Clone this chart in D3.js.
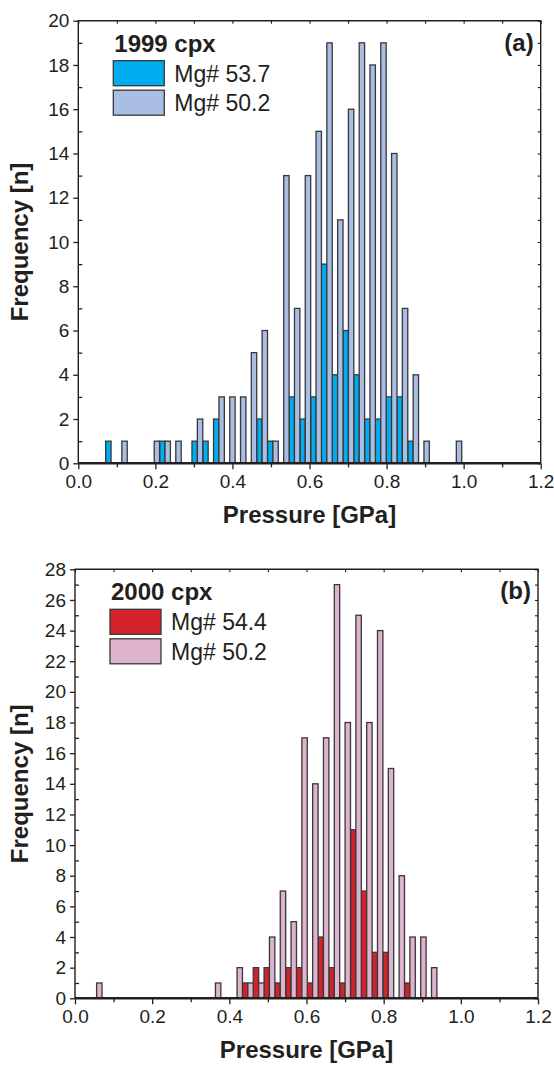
<!DOCTYPE html>
<html>
<head>
<meta charset="utf-8">
<script src="https://cdn.jsdelivr.net/npm/d3@7"></script>
<style>
  html, body { margin: 0; padding: 0; background: #fff; }
  svg { display: block; font-family: "Liberation Sans", Arial, sans-serif; }
</style>
</head>
<body>
<div id="chart"></div>
<script>
// Two clinopyroxene barometry histograms: 1999 cpx (a) and 2000 cpx (b).
// Each pressure bin holds two half-width bars: high-Mg# left, Mg# 50.2 right.

const BIN_WIDTH = 0.028; // GPa, full width of one bin (two bars)

// panel (a): 1999 cpx
const pressureA = [0.085, 0.113, 0.141, 0.169, 0.197, 0.225, 0.253, 0.281, 0.309, 0.337,
  0.365, 0.393, 0.421, 0.449, 0.477, 0.505, 0.533, 0.561, 0.589, 0.617, 0.645, 0.673,
  0.701, 0.729, 0.757, 0.785, 0.813, 0.841, 0.869, 0.897, 0.925, 0.953, 0.981];
const mg537 = [1, 0, 0, 0, 0, 1, 0, 0, 1, 1, 2, 0, 0, 0, 2, 1, 0, 3, 2, 3, 9, 4,
  6, 4, 2, 2, 3, 3, 1, 0, 0, 0, 0];
const mg502a = [0, 1, 0, 0, 1, 1, 1, 0, 2, 0, 3, 3, 3, 5, 6, 1, 13, 7, 13, 15, 19, 11,
  16, 19, 18, 19, 14, 7, 4, 1, 0, 0, 1];

// panel (b): 2000 cpx
const pressureB = [0.056, 0.084, 0.112, 0.140, 0.168, 0.196, 0.224, 0.252, 0.280, 0.308,
  0.336, 0.364, 0.392, 0.420, 0.448, 0.476, 0.504, 0.532, 0.560, 0.588, 0.616, 0.644,
  0.672, 0.700, 0.728, 0.756, 0.784, 0.812, 0.840, 0.868, 0.896, 0.924];
const mg544 = [0, 0, 0, 0, 0, 0, 0, 0, 0, 0, 0, 0, 0, 0, 1, 2, 2, 1, 2, 2, 1, 4,
  2, 1, 11, 7, 3, 3, 0, 1, 0, 0];
const mg502b = [1, 0, 0, 0, 0, 0, 0, 0, 0, 0, 0, 1, 0, 2, 1, 1, 4, 7, 5, 17, 14, 17,
  27, 18, 25, 18, 24, 15, 8, 4, 4, 2];

const xMajor = [0, 0.2, 0.4, 0.6, 0.8, 1.0, 1.2];
const xMinor = [0.1, 0.3, 0.5, 0.7, 0.9, 1.1];

const INK = "#231f20";

const panels = [
  {
    title: "1999 cpx", tag: "(a)",
    pressure: pressureA, series: [mg537, mg502a],
    names: ["Mg# 53.7", "Mg# 50.2"], colors: ["#00aeef", "#aabde2"],
    yMax: 20,
    box: { left: 78.3, right: 540.7, top: 20.7, bottom: 463.3 },
  },
  {
    title: "2000 cpx", tag: "(b)",
    pressure: pressureB, series: [mg544, mg502b],
    names: ["Mg# 54.4", "Mg# 50.2"], colors: ["#d2232a", "#ddb3ce"],
    yMax: 28,
    box: { left: 75, right: 538, top: 569.3, bottom: 998.3 },
  },
];

const W = 554, H = 1084;
const svg = d3.select("#chart").append("svg").attr("width", W).attr("height", H);

function styleAxis(g, width) {
  g.select(".domain").remove();
  g.selectAll(".tick line").attr("stroke", INK).attr("stroke-width", width);
  g.selectAll(".tick text").attr("fill", INK).attr("font-size", 19);
}

for (const p of panels) {
  const b = p.box;
  const x = d3.scaleLinear().domain([0, 1.2]).range([b.left, b.right]);
  const y = d3.scaleLinear().domain([0, p.yMax]).range([b.bottom, b.top]);
  const g = svg.append("g");

  // bars: left half = high Mg#, right half = Mg# 50.2
  p.series.forEach((vals, si) => {
    g.append("g")
      .selectAll("rect")
      .data(p.pressure.map((c, i) => ({ c, v: vals[i] })).filter((d) => d.v > 0))
      .join("rect")
      .attr("x", (d) => x(si === 0 ? d.c - BIN_WIDTH / 2 : d.c))
      .attr("width", (d) => x(d.c + BIN_WIDTH / 2) - x(d.c))
      .attr("y", (d) => y(d.v))
      .attr("height", (d) => y(0) - y(d.v))
      .attr("fill", p.colors[si])
      .attr("stroke", "#38383a")
      .attr("stroke-width", 1.3);
  });

  const yMajor = d3.range(0, p.yMax + 1, 2);
  const yMinor = d3.range(1, p.yMax, 2);
  const yAll = d3.range(0, p.yMax + 1, 1);

  // bottom axis: major + minor ticks, both outward
  g.append("g").attr("transform", `translate(0,${b.bottom})`)
    .call(d3.axisBottom(x).tickValues(xMajor).tickSize(6).tickPadding(5).tickFormat(d3.format(".1f")))
    .call((s) => styleAxis(s, 1.3));
  g.append("g").attr("transform", `translate(0,${b.bottom})`)
    .call(d3.axisBottom(x).tickValues(xMinor).tickSize(4).tickFormat(""))
    .call((s) => styleAxis(s, 1.3));

  // left axis: major outward with labels, minor inward
  g.append("g").attr("transform", `translate(${b.left},0)`)
    .call(d3.axisLeft(y).tickValues(yMajor).tickSize(5).tickPadding(4))
    .call((s) => styleAxis(s, 1.3));
  g.append("g").attr("transform", `translate(${b.left},0)`)
    .call(d3.axisRight(y).tickValues(yMinor).tickSize(4).tickFormat(""))
    .call((s) => styleAxis(s, 1.3));

  // top and right: small inward ticks
  g.append("g").attr("transform", `translate(0,${b.top})`)
    .call(d3.axisBottom(x).tickValues(xMajor.concat(xMinor)).tickSize(3).tickFormat(""))
    .call((s) => styleAxis(s, 1.1));
  g.append("g").attr("transform", `translate(${b.right},0)`)
    .call(d3.axisLeft(y).tickValues(yAll).tickSize(3).tickFormat(""))
    .call((s) => styleAxis(s, 1.1));

  // frame
  g.append("path")
    .attr("d", `M${b.left},${b.bottom}V${b.top}H${b.right}V${b.bottom}`)
    .attr("fill", "none").attr("stroke", INK).attr("stroke-width", 1.4);
  g.append("line")
    .attr("x1", b.left).attr("x2", b.right).attr("y1", b.bottom).attr("y2", b.bottom)
    .attr("stroke", INK).attr("stroke-width", 2.4);

  // axis titles
  g.append("text")
    .attr("x", (b.left + b.right) / 2).attr("y", b.bottom + 60)
    .attr("text-anchor", "middle").attr("font-size", 24).attr("font-weight", "bold")
    .attr("fill", INK).text("Pressure [GPa]");
  g.append("text")
    .attr("transform", `translate(28,${(b.top + b.bottom) / 2}) rotate(-90)`)
    .attr("text-anchor", "middle").attr("font-size", 24).attr("font-weight", "bold")
    .attr("fill", INK).text("Frequency [n]");

  // panel tag
  g.append("text")
    .attr("x", b.right - 7).attr("y", b.top + 30)
    .attr("text-anchor", "end").attr("font-size", 24).attr("font-weight", "bold")
    .attr("fill", INK).text(p.tag);

  // legend
  const lx = b.left + 35, ly = b.top + 15;
  const leg = g.append("g").attr("transform", `translate(${lx},${ly})`);
  leg.append("text").attr("x", 1).attr("y", 16)
    .attr("font-size", 24).attr("font-weight", "bold").attr("fill", INK).text(p.title);
  p.names.forEach((name, i) => {
    const ry = 25 + i * 29.5;
    leg.append("rect").attr("x", 0).attr("y", ry).attr("width", 51).attr("height", 25)
      .attr("fill", p.colors[i]).attr("stroke", "#38383a").attr("stroke-width", 1.3);
    leg.append("text").attr("x", 61).attr("y", ry + 21)
      .attr("font-size", 23).attr("fill", INK).text(name);
  });
}
</script>
</body>
</html>
